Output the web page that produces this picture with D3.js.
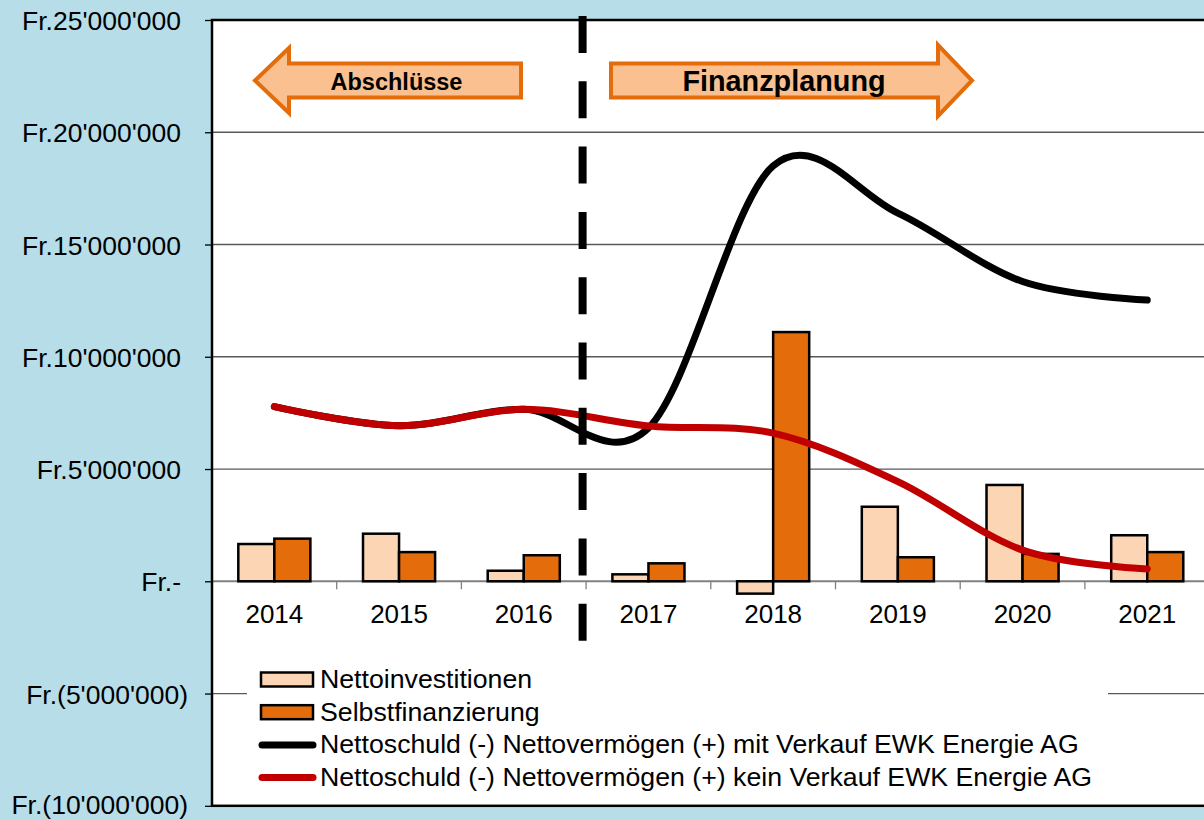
<!DOCTYPE html>
<html>
<head>
<meta charset="utf-8">
<script src="https://d3js.org/d3.v7.min.js"></script>
<style>
body { margin: 0; background: #b7dde8; }
svg { display: block; font-family: "Liberation Sans", Arial, sans-serif; }
</style>
</head>
<body>
<svg id="chart" width="1204" height="819"></svg>
<script>
var years = ["2014", "2015", "2016", "2017", "2018", "2019", "2020", "2021"];
var nettoinvestitionen = [1660000, 2120000, 470000, 310000, -550000, 3320000, 4290000, 2050000];
var selbstfinanzierung = [1900000, 1300000, 1160000, 800000, 11100000, 1070000, 1220000, 1300000];
var mitVerkauf = [7780000, 6930000, 7660000, 6830000, 18500000, 16400000, 13350000, 12530000];
var keinVerkauf = [7780000, 6930000, 7660000, 6920000, 6600000, 4440000, 1390000, 550000];
var yTicks = [-10000000, -5000000, 0, 5000000, 10000000, 15000000, 20000000, 25000000];
var legendLabels = ["Nettoinvestitionen", "Selbstfinanzierung",
  "Nettoschuld (-) Nettovermögen (+) mit Verkauf EWK Energie AG",
  "Nettoschuld (-) Nettovermögen (+) kein Verkauf EWK Energie AG"];

var plotLeft = 212, plotTop = 20, plotBottom = 805.8, bandW = 124.7;
var plotRight = plotLeft + years.length * bandW;

var lightOrange = "#fcd5b5", darkOrange = "#e46c0a", red = "#c00000";

var svg = d3.select("#chart");

var x = d3.scaleBand().domain(years).range([plotLeft, plotRight]).padding(0);
var inner = d3.scaleBand().domain(["n", "s"]).range([0, x.bandwidth()])
  .paddingInner(0).paddingOuter(0.73);
var y = d3.scaleLinear().domain([-10000000, 25000000]).range([plotBottom, plotTop]);

var locale = d3.formatLocale({ decimal: ".", thousands: "'", grouping: [3], currency: ["", ""] });
var fmt = locale.format(",.0f");
function frLabel(v) {
  if (v == 0) return "Fr.-";
  if (v < 0) return "Fr.(" + fmt(-v) + ")";
  return "Fr." + fmt(v);
}

// plot area
svg.append("rect")
  .attr("x", plotLeft).attr("y", plotTop)
  .attr("width", plotRight - plotLeft).attr("height", plotBottom - plotTop)
  .attr("fill", "white");

// gridlines
svg.append("g").selectAll("line").data(yTicks.filter(function(d) { return d != 0; })).enter()
  .append("line")
  .attr("x1", plotLeft).attr("x2", plotRight)
  .attr("y1", function(d) { return y(d); })
  .attr("y2", function(d) { return y(d); })
  .attr("stroke", "#595959")
  .attr("stroke-width", 1.3);

// y axis
var yAxis = d3.axisLeft(y).tickValues(yTicks).tickFormat(frLabel).tickSize(7).tickPadding(24);
var gy = svg.append("g").attr("transform", "translate(" + plotLeft + ",0)").call(yAxis);
gy.select(".domain").remove();
gy.selectAll(".tick line").attr("stroke", "#000").attr("stroke-width", 1.3);
gy.selectAll(".tick text")
  .attr("font-size", 26.5)
  .attr("font-family", "Liberation Sans, Arial, sans-serif")
  .attr("fill", "#000")
  .attr("dx", function(d) { return d < 0 ? 7 : 0; })
  .attr("dy", function(d) { return d == -10000000 ? "0.28em" : "0.36em"; });

// x axis on zero line
var gx = svg.append("g");
gx.append("line")
  .attr("x1", plotLeft).attr("x2", plotRight)
  .attr("y1", y(0)).attr("y2", y(0))
  .attr("stroke", "#808080").attr("stroke-width", 2);
gx.selectAll("line.tk").data(years).enter()
  .append("line")
  .attr("class", "tk")
  .attr("x1", function(d) { return x(d); })
  .attr("x2", function(d) { return x(d); })
  .attr("y1", y(0)).attr("y2", y(0) + 8)
  .attr("stroke", "#808080").attr("stroke-width", 1.3);
gx.selectAll("text").data(years).enter()
  .append("text")
  .attr("x", function(d) { return x(d) + x.bandwidth() / 2; })
  .attr("y", y(0) + 42)
  .attr("text-anchor", "middle")
  .attr("font-size", 26)
  .text(function(d) { return d; });

// bars
var barData = [];
years.forEach(function(yr, i) {
  barData.push({ year: yr, key: "n", v: nettoinvestitionen[i] });
  barData.push({ year: yr, key: "s", v: selbstfinanzierung[i] });
});
svg.append("g").selectAll("rect").data(barData).enter()
  .append("rect")
  .attr("x", function(d) { return x(d.year) + inner(d.key); })
  .attr("y", function(d) { return Math.min(y(d.v), y(0)); })
  .attr("width", inner.bandwidth())
  .attr("height", function(d) { return Math.abs(y(d.v) - y(0)); })
  .attr("fill", function(d) { return d.key == "n" ? lightOrange : darkOrange; })
  .attr("stroke", "#000")
  .attr("stroke-width", 2.5);

// lines
var line = d3.line()
  .x(function(d, i) { return x(years[i]) + x.bandwidth() / 2; })
  .y(function(d) { return y(d); })
  .curve(d3.curveCardinal.tension(0));

svg.append("path").datum(mitVerkauf)
  .attr("d", line)
  .attr("fill", "none").attr("stroke", "#000")
  .attr("stroke-width", 7).attr("stroke-linecap", "round");
svg.append("path").datum(keinVerkauf)
  .attr("d", line)
  .attr("fill", "none").attr("stroke", red)
  .attr("stroke-width", 7).attr("stroke-linecap", "round");

// frame
svg.append("rect")
  .attr("x", plotLeft).attr("y", plotTop)
  .attr("width", plotRight - plotLeft).attr("height", plotBottom - plotTop)
  .attr("fill", "none").attr("stroke", "#000").attr("stroke-width", 2.5);

// dashed separator
var sepX = x("2017") - 3.5;
svg.append("line")
  .attr("x1", sepX).attr("x2", sepX)
  .attr("y1", 16).attr("y2", 641)
  .attr("stroke", "#000").attr("stroke-width", 8)
  .attr("stroke-dasharray", "37 28.3");

// arrows
function arrowPath(pts) { return "M" + pts.map(function(p) { return p.join(","); }).join("L") + "Z"; }
var arrows = svg.append("g");
arrows.append("path")
  .attr("d", arrowPath([[255, 80.5], [289, 48], [289, 63.5], [521, 63.5], [521, 97.5], [289, 97.5], [289, 113]]))
  .attr("fill", "#fac090").attr("stroke", darkOrange).attr("stroke-width", 4);
arrows.append("path")
  .attr("d", arrowPath([[611, 63.5], [938, 63.5], [938, 45], [972, 80.5], [938, 116], [938, 97.5], [611, 97.5]]))
  .attr("fill", "#fac090").attr("stroke", darkOrange).attr("stroke-width", 4);
arrows.append("text")
  .attr("x", 396.5).attr("y", 90)
  .attr("text-anchor", "middle")
  .attr("font-size", 23.5).attr("font-weight", "bold")
  .text("Abschlüsse");
arrows.append("text")
  .attr("x", 784).attr("y", 91)
  .attr("text-anchor", "middle")
  .attr("font-size", 28.8).attr("font-weight", "bold")
  .text("Finanzplanung");

// legend
var legend = svg.append("g");
legend.append("rect")
  .attr("x", 247).attr("y", 652).attr("width", 861).attr("height", 148)
  .attr("fill", "white");
var rowY = d3.scaleLinear().domain([0, 1]).range([679.5, 712.2]);
[0, 1].forEach(function(i) {
  legend.append("rect")
    .attr("x", 261).attr("y", rowY(i) - 7).attr("width", 52).attr("height", 14)
    .attr("fill", i == 0 ? lightOrange : darkOrange)
    .attr("stroke", "#000").attr("stroke-width", 2.5);
});
[2, 3].forEach(function(i) {
  legend.append("line")
    .attr("x1", 262).attr("x2", 313)
    .attr("y1", rowY(i)).attr("y2", rowY(i))
    .attr("stroke", i == 2 ? "#000" : red)
    .attr("stroke-width", 7).attr("stroke-linecap", "round");
});
legend.selectAll("text").data(legendLabels).enter()
  .append("text")
  .attr("x", 320)
  .attr("y", function(d, i) { return rowY(i) + 8.5; })
  .attr("font-size", 26.7)
  .text(function(d) { return d; });
</script>
</body>
</html>
